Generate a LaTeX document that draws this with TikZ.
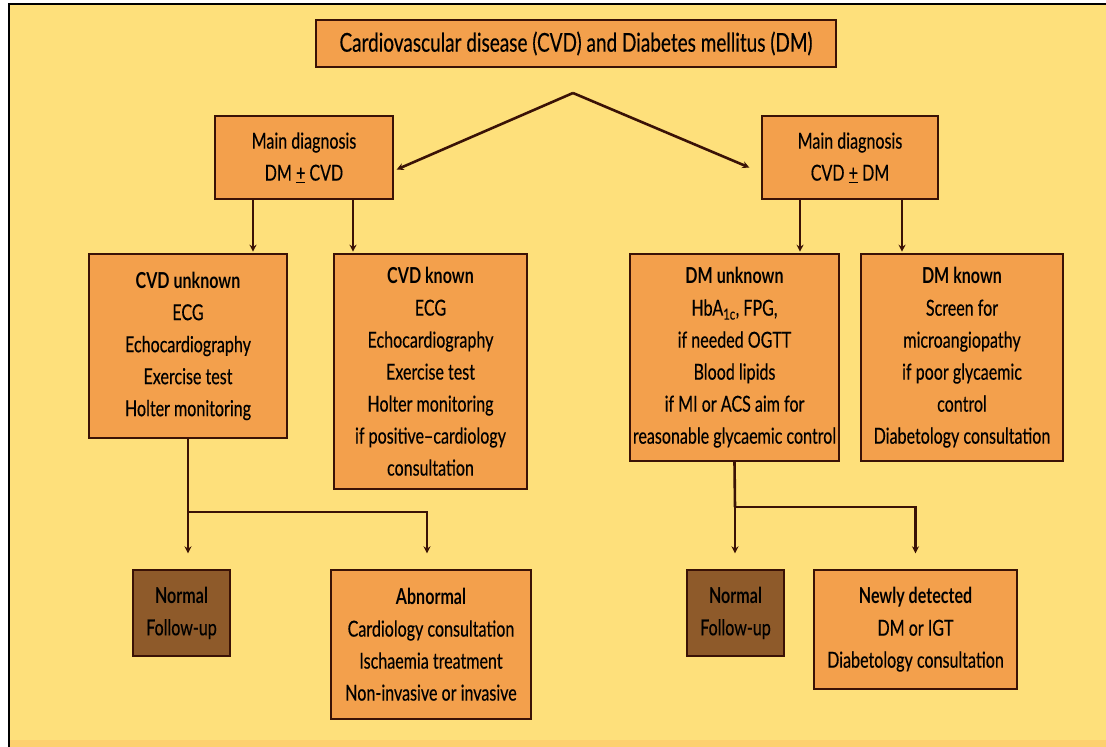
\documentclass[tikz,border=0pt]{standalone}
\usepackage{fontspec}
\setmainfont{Lato}[FakeStretch=0.73, UprightFeatures={FakeBold=0.3}]
\usepackage{xcolor}
\definecolor{slideyellow}{HTML}{FEE07B}
\definecolor{slidestrip}{HTML}{FDD06F}
\definecolor{boxorange}{HTML}{F3A04C}
\definecolor{normalbrown}{HTML}{8E5A2A}
\definecolor{linebrown}{HTML}{3A1206}
\usepackage{tikz}
\usetikzlibrary{arrows.meta, positioning, calc}
\tikzstyle{arrow} = [
  -{Stealth[length=7pt,width=7pt]}, line width=2.6pt, color=linebrown
]
\tikzstyle{link} = [
  line width=2.6pt, color=linebrown
]

\begin{document}
\begin{tikzpicture}[
  x=1pt, y=-1pt,
  every node/.style={font=\fontsize{22}{32}\selectfont, text=black},
  box/.style={rectangle, draw=linebrown, line width=1.4pt, fill=boxorange,
              align=center, inner sep=0pt},
  normal/.style={box, fill=normalbrown},
]
  \useasboundingbox (0,0) rectangle (1106,747);
  \fill[white] (0,0) rectangle (1106,747);
  \fill[slideyellow] (9,4) rectangle (1106,740);
  \fill[slidestrip] (9,740) rectangle (1106,747);
  \draw[line width=2pt, black] (9,747) |- (1106,4);

  \node[box, minimum width=520pt, minimum height=47pt,
        font=\fontsize{26}{30}\selectfont] (top) at (576,43.5)
    {Cardiovascular disease (CVD) and Diabetes mellitus (DM)};

  \node[box, minimum width=178pt, minimum height=83pt] (mainl) at (304,157.5)
    {Main diagnosis\\DM \underline{+} CVD};
  \node[box, minimum width=176pt, minimum height=83pt] (mainr) at (850,157.5)
    {Main diagnosis\\CVD \underline{+} DM};

  \node[box, minimum width=198pt, minimum height=184pt] (cvdunk) at (188,346)
    {\textbf{CVD unknown}\\ECG\\Echocardiography\\Exercise test\\Holter monitoring};
  \node[box, minimum width=193pt, minimum height=235pt] (cvdkn) at (430.5,371.5)
    {\textbf{CVD known}\\ECG\\Echocardiography\\Exercise test\\Holter monitoring\\
     if positive--cardiology\\consultation};
  \node[box, minimum width=209pt, minimum height=207pt] (dmunk) at (734.5,357.5)
    {\textbf{DM unknown}\\HbA\textsubscript{1c}, FPG,\\if needed OGTT\\Blood lipids\\
     if MI or ACS aim for\\reasonable glycaemic control};
  \node[box, minimum width=202pt, minimum height=207pt] (dmkn) at (962,357.5)
    {\textbf{DM known}\\Screen for\\microangiopathy\\if poor glycaemic\\control\\
     Diabetology consultation};

  \node[normal, minimum width=97pt, minimum height=86pt] (norml) at (181.5,613)
    {\textbf{Normal}\\Follow-up};
  \node[box, minimum width=200pt, minimum height=149pt] (abnorm) at (431,644.5)
    {\textbf{Abnormal}\\Cardiology consultation\\Ischaemia treatment\\
     Non-invasive or invasive};
  \node[normal, minimum width=97pt, minimum height=86pt] (normr) at (735.5,613)
    {\textbf{Normal}\\Follow-up};
  \node[box, minimum width=203pt, minimum height=119pt] (newdet) at (915.5,629.5)
    {\textbf{Newly detected}\\DM or IGT\\Diabetology consultation};

  \coordinate (split) at (573,93);
  \coordinate (joinl) at (188,512);
  \coordinate (joinr) at (735,507);

  \draw[arrow] (split) -- ([xshift=3pt,yshift=-12pt]mainl.east);
  \draw[arrow] (split) -- ([xshift=-12pt,yshift=-10pt]mainr.west);

  \draw[arrow, shorten >=3pt] ([xshift=-51pt]mainl.south) -- ++(0,55);
  \draw[arrow, shorten >=3pt] ([xshift=49pt]mainl.south) -- ++(0,55);
  \draw[arrow, shorten >=3pt] ([xshift=-50pt]mainr.south) -- ++(0,55);
  \draw[arrow, shorten >=3pt] ([xshift=52pt]mainr.south) -- ++(0,55);

  \draw[link] (cvdunk.south) -- (joinl);
  \draw[arrow, shorten >=16pt] (joinl) -- (joinl |- norml.north);
  \draw[arrow, shorten >=16pt] (joinl) -| ([xshift=-4pt]abnorm.north);
  \draw[link] (dmunk.south) -- (joinr);
  \draw[arrow, shorten >=16pt] (joinr) -- (joinr |- normr.north);
  \draw[arrow, shorten >=16pt] (joinr) -| (newdet.north);
\end{tikzpicture}
\end{document}
